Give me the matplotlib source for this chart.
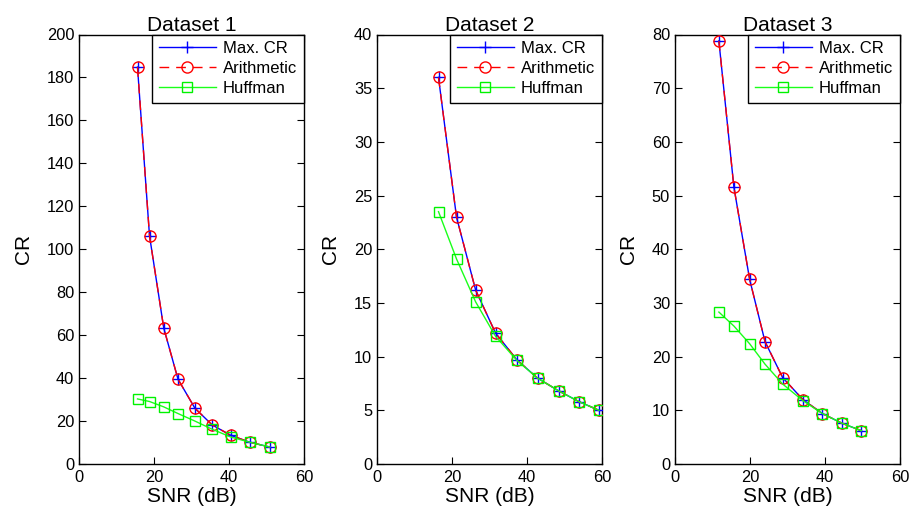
import matplotlib
matplotlib.use("Agg")
import matplotlib.pyplot as plt

plt.rcParams['font.family'] = ['Liberation Sans', 'DejaVu Sans']

titles = ["Dataset 1", "Dataset 2", "Dataset 3"]
series_names = ["Max. CR", "Arithmetic", "Huffman"]

snr1 = [15.6, 18.8, 22.6, 26.4, 30.9, 35.5, 40.4, 45.6, 50.9]
maxcr1 = [184.8, 106.3, 63.3, 39.5, 26.0, 18.2, 13.4, 10.1, 7.9]
arith1 = [184.8, 106.3, 63.3, 39.5, 26.0, 18.2, 13.4, 10.1, 7.9]
huff1 = [30.3, 29.1, 26.6, 23.5, 20.0, 16.2, 12.6, 10.1, 7.9]

snr2 = [16.4, 21.2, 26.3, 31.6, 37.3, 42.8, 48.5, 53.9, 59.2]
maxcr2 = [36.0, 23.0, 16.2, 12.2, 9.7, 8.0, 6.8, 5.8, 5.0]
arith2 = [36.0, 23.0, 16.2, 12.2, 9.7, 8.0, 6.8, 5.8, 5.0]
huff2 = [23.5, 19.1, 15.1, 11.9, 9.65, 8.0, 6.8, 5.8, 5.0]

snr3 = [11.7, 15.7, 19.9, 24.0, 28.7, 34.1, 39.3, 44.5, 49.7]
maxcr3 = [78.8, 51.6, 34.4, 22.8, 16.1, 12.0, 9.4, 7.6, 6.2]
arith3 = [78.8, 51.6, 34.4, 22.8, 16.1, 12.0, 9.4, 7.6, 6.2]
huff3 = [28.3, 25.7, 22.4, 18.6, 14.9, 11.8, 9.4, 7.6, 6.2]

x_ticks = [0, 20, 40, 60]
y_limits = [200, 40, 80]
y_steps = [20, 5, 10]

data = [
    (snr1, maxcr1, arith1, huff1),
    (snr2, maxcr2, arith2, huff2),
    (snr3, maxcr3, arith3, huff3),
]

W, H = 911, 508
fig = plt.figure(figsize=(W / 100, H / 100), dpi=100)
lefts = [79, 377, 675]
ax_w = 225
ax_top = 34.5
ax_bot = 464

for i in range(3):
    ax = fig.add_axes([lefts[i] / W, (H - ax_bot) / H, ax_w / W, (ax_bot - ax_top) / H])
    snr, mcr, ar, hf = data[i]
    h1, = ax.plot(snr, mcr, color=(0, 0, 1), lw=1.0, marker='+', ms=9, mew=1.0, zorder=3)
    h2, = ax.plot(snr, ar, color=(1, 0, 0), lw=1.0, ls=(0, (7, 5)), marker='o', ms=8,
                  mfc='none', mec=(1, 0, 0), mew=1.0, zorder=3.2)
    h3, = ax.plot(snr, hf, color=(0.1, 1, 0.1), lw=1.0, marker='s', ms=6.5,
                  mfc='none', mec=(0, 0.95, 0), mew=1.0, zorder=3.5)
    ax.set_xlim(0, 60)
    ax.set_ylim(0, y_limits[i])
    ax.set_xticks(x_ticks)
    ax.set_yticks(list(range(0, y_limits[i] + 1, y_steps[i])))
    ax.tick_params(direction='in', top=True, right=True, length=5, width=0.8,
                   labelsize=11.8, pad=4)
    ax.tick_params(axis='y', pad=3.5)
    for s in ax.spines.values():
        s.set_linewidth(1.0)
    ax.set_title(titles[i], fontsize=15, pad=2.5)
    ax.set_xlabel("SNR (dB)", fontsize=15, labelpad=2)
    ax.set_ylabel("CR", fontsize=15, labelpad=10)
    leg = ax.legend([h1, h2, h3], series_names, loc='upper right', fontsize=12,
                    frameon=True, fancybox=False, framealpha=1, edgecolor='black',
                    borderaxespad=0, handlelength=3.4, labelspacing=0.3,
                    handletextpad=0.45, borderpad=0.4)
    leg.get_frame().set_linewidth(1.0)
    leg.set_zorder(10)

fig.savefig("out.png", dpi=100)
